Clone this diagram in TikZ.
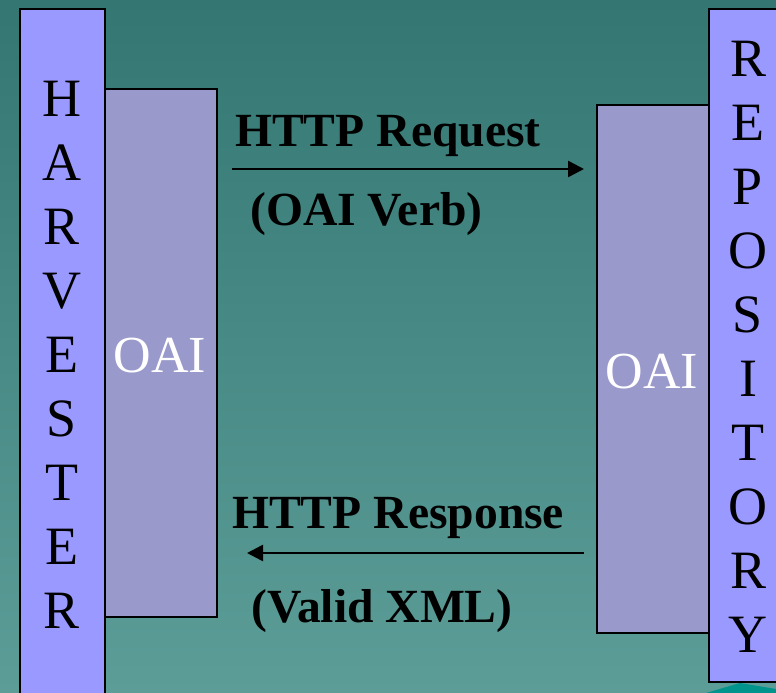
\documentclass[tikz,border=0pt]{standalone}
\usepackage{fontspec}
\setmainfont{Liberation Serif}
\usetikzlibrary{arrows.meta}
\definecolor{bgtop}{RGB}{52,119,114}
\definecolor{bgbot}{RGB}{92,157,152}
\definecolor{sidefill}{RGB}{153,153,255}
\definecolor{oaifill}{RGB}{153,153,204}
\definecolor{tealmark}{RGB}{0,148,140}
\tikzset{
  sidebox/.style={draw=black, line width=2pt, fill=sidefill, inner sep=0pt, anchor=north west},
  oaibox/.style={draw=black, line width=2pt, fill=oaifill, inner sep=0pt, anchor=north west},
  letter/.style={inner sep=0pt, anchor=base, font=\fontsize{54}{54}\selectfont},
  oailabel/.style={inner sep=0pt, anchor=base, text=white, font=\fontsize{52}{52}\selectfont},
  msg/.style={inner sep=0pt, anchor=base west, font=\fontsize{47.6}{47.6}\selectfont\bfseries},
  flow/.style={line width=2.5pt, -{Triangle[length=16pt,width=16pt]}}
}
\begin{document}
\begin{tikzpicture}[x=1pt,y=-1pt]
  \useasboundingbox (0,0) rectangle (776,693);
  \clip (0,0) rectangle (776,693);
  % background
  \shade[top color=bgtop, bottom color=bgbot] (0,0) rectangle (776,693);
  % corner decoration
  \fill[tealmark] (706,693) -- (740,683) -- (776,689) -- (776,693) -- cycle;

  % harvester side
  \node[sidebox, minimum width=85pt, minimum height=700pt] (harv) at (19,8) {};
  \node[oaibox, minimum width=112pt, minimum height=528pt] (oaiL) at (104,88) {};
  \foreach \c [count=\i from 0] in {H,A,R,V,E,S,T,E,R}
    \node[letter] (h\i) at (61.5,116+64*\i) {\c};
  \node[oailabel] (oaiLtxt) at (160,372) {OAI};

  % repository side
  \node[sidebox, minimum width=85pt, minimum height=673pt] (repo) at (708,8) {};
  \node[oaibox, minimum width=112pt, minimum height=528pt] (oaiR) at (596,104) {};
  \foreach \c [count=\i from 0] in {R,E,P,O,S,I,T,O,R,Y}
    \node[letter] (r\i) at (748,76+64*\i) {\c};
  \node[oailabel] (oaiRtxt) at (652,388) {OAI};

  % request
  \node[msg] (req) at (235,146) {HTTP Request};
  \node[msg] (verb) at (250,225) {(OAI Verb)};
  \coordinate (reqA) at (232,169);
  \coordinate (reqB) at (584,169);
  \draw[flow] (reqA) -- (reqB);

  % response
  \node[msg] (resp) at (232,528) {HTTP Response};
  \node[msg] (xml) at (251,622) {(Valid XML)};
  \coordinate (respA) at (584,553);
  \coordinate (respB) at (247,553);
  \draw[flow] (respA) -- (respB);
\end{tikzpicture}
\end{document}
